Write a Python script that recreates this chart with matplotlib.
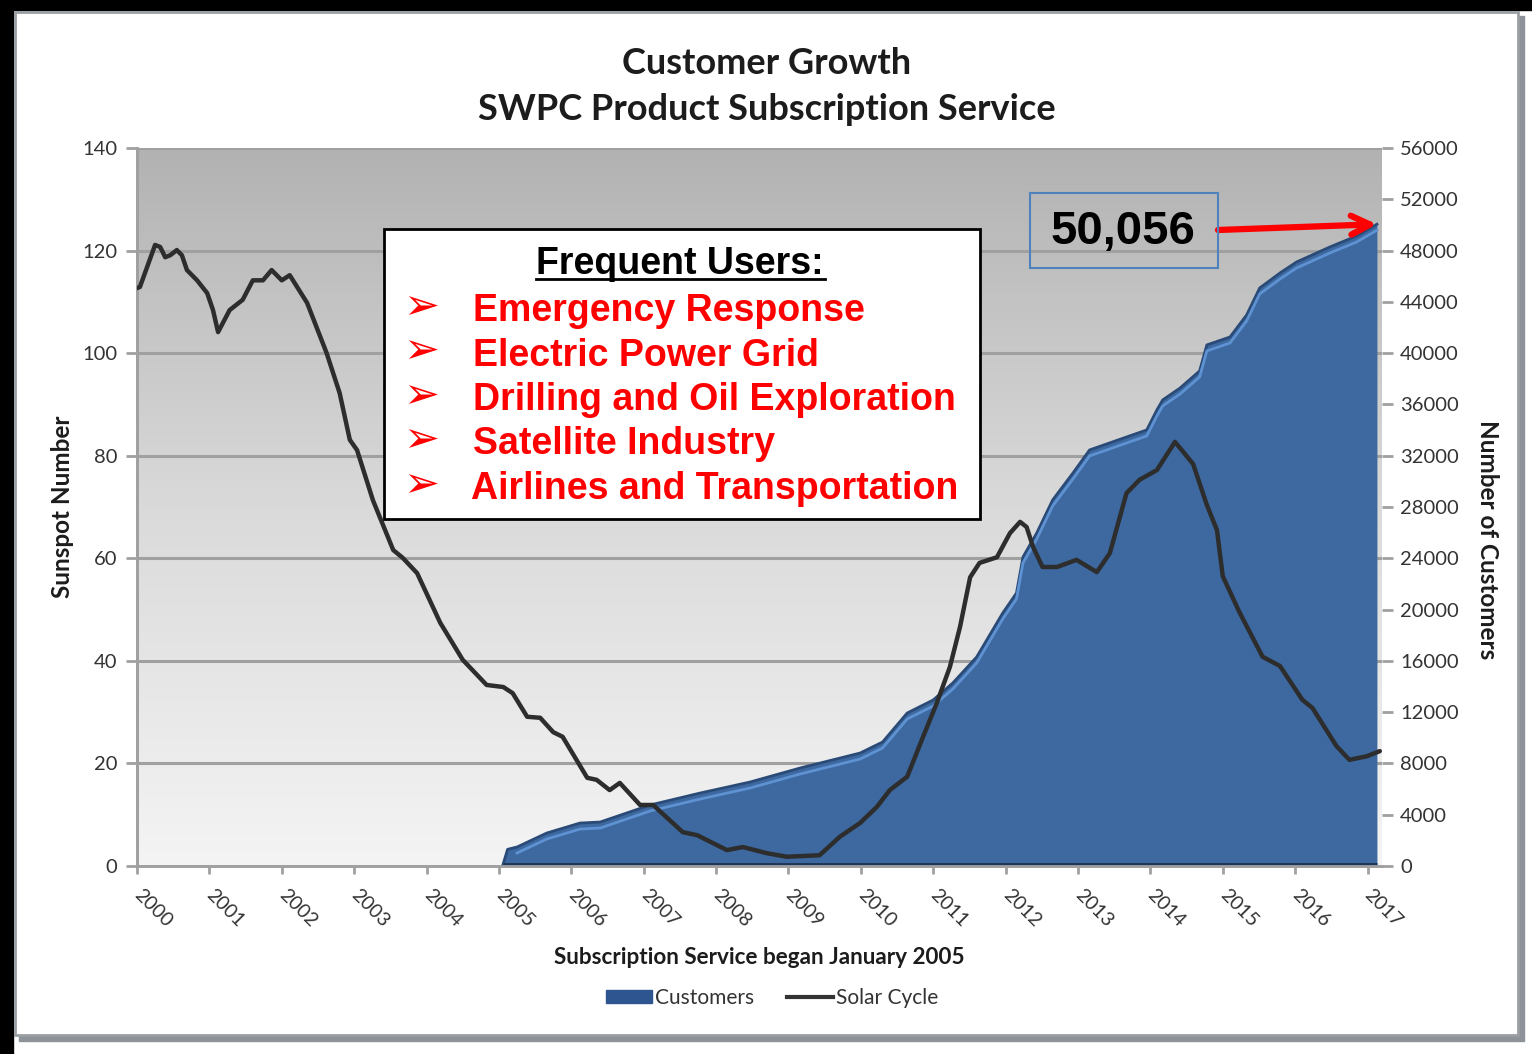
import numpy as np
import matplotlib
matplotlib.use("Agg")
import matplotlib.pyplot as plt
from matplotlib.patches import Rectangle, Patch
from matplotlib.lines import Line2D
from matplotlib.transforms import offset_copy

# sunspot number (solar cycle)
sun_year = [2000.00, 2000.04, 2000.14, 2000.25, 2000.32, 2000.39, 2000.46, 2000.55,
            2000.62, 2000.69, 2000.83, 2000.97, 2001.05, 2001.12, 2001.28, 2001.46,
            2001.60, 2001.74, 2001.86, 2002.00, 2002.11, 2002.35, 2002.62, 2002.80,
            2002.94, 2003.04, 2003.26, 2003.54, 2003.67, 2003.87, 2004.19, 2004.50,
            2004.83, 2005.06, 2005.19, 2005.39, 2005.57, 2005.75, 2005.88, 2006.22,
            2006.35, 2006.53, 2006.67, 2006.95, 2007.13, 2007.54, 2007.74, 2008.15,
            2008.37, 2008.70, 2008.98, 2009.43, 2009.71, 2009.99, 2010.22, 2010.40,
            2010.64, 2010.86, 2011.05, 2011.23, 2011.37, 2011.51, 2011.64, 2011.88,
            2012.06, 2012.20, 2012.29, 2012.38, 2012.51, 2012.71, 2012.98, 2013.26,
            2013.44, 2013.67, 2013.85, 2014.09, 2014.34, 2014.59, 2014.78, 2014.92,
            2015.00, 2015.23, 2015.55, 2015.79, 2016.10, 2016.24, 2016.57, 2016.75,
            2016.99, 2017.17]
sunspots = [112.7, 112.9, 116.8, 121.1, 120.7, 118.7, 119.1, 120.1,
            119.1, 116.2, 114.2, 111.7, 108.4, 104.1, 108.4, 110.4,
            114.2, 114.2, 116.2, 114.2, 115.2, 109.8, 100.0, 92.2,
            83.1, 81.1, 71.3, 61.6, 60.1, 57.1, 47.4, 40.2,
            35.3, 34.9, 33.7, 29.1, 28.9, 26.1, 25.2, 17.2,
            16.8, 14.8, 16.2, 11.9, 11.9, 6.6, 6.0, 3.1,
            3.7, 2.5, 1.8, 2.1, 5.7, 8.4, 11.5, 14.8,
            17.4, 25.2, 31.8, 38.8, 46.6, 56.3, 59.1, 60.2,
            64.9, 67.1, 66.1, 62.2, 58.3, 58.3, 59.7, 57.3,
            61.0, 72.7, 75.3, 77.2, 82.7, 78.4, 70.4, 65.5,
            56.5, 49.5, 40.8, 39.0, 32.4, 30.8, 23.4, 20.7,
            21.4, 22.4]

# number of subscription customers
cust_year = [2005.05, 2005.12, 2005.25, 2005.66, 2006.12, 2006.40, 2007.09, 2007.78,
             2008.47, 2009.16, 2009.99, 2010.30, 2010.64, 2011.00, 2011.27, 2011.60,
             2011.96, 2012.15, 2012.24, 2012.43, 2012.65, 2012.93, 2013.16, 2013.95,
             2014.09, 2014.17, 2014.41, 2014.68, 2014.78, 2015.10, 2015.33, 2015.51,
             2015.79, 2016.02, 2016.48, 2016.85, 2017.13]
customers = [0, 1300, 1480, 2570, 3350, 3430, 4760, 5690,
             6550, 7640, 8810, 9670, 11930, 12950, 14270, 16300,
             19730, 21290, 24100, 25970, 28550, 30650, 32450, 34010,
             35570, 36350, 37280, 38610, 40640, 41260, 42980, 45080,
             46250, 47110, 48280, 49140, 50056]

years = list(range(2000, 2018))
left_ticks = list(range(0, 141, 20))
right_ticks = list(range(0, 56001, 4000))
frequent_users = ["Emergency Response", "Electric Power Grid",
                  "Drilling and Oil Exploration", "Satellite Industry",
                  "Airlines and Transportation"]

W, H = 1532, 1054
FONT = "Lato"
TXT = "#333333"
DARK = "#1c1c1c"


def fx(px):
    return px / W


def fy(py):
    return 1 - py / H


fig = plt.figure(figsize=(W / 100, H / 100), dpi=100)
fig.patch.set_facecolor("white")

# black strips + framed white panel with shadow
fig.patches.append(Rectangle((0, fy(10)), 1, 10 / H, transform=fig.transFigure,
                             color="black", zorder=-5))
fig.patches.append(Rectangle((0, 0), fx(13), 1, transform=fig.transFigure,
                             color="black", zorder=-5))
fig.patches.append(Rectangle((fx(19), fy(1041)), fx(1505), 1025 / H,
                             transform=fig.transFigure, color="#8d9399", zorder=-4))
fig.patches.append(Rectangle((fx(15), fy(1035)), fx(1503), 1023 / H,
                             transform=fig.transFigure, facecolor="white",
                             edgecolor="#9a9fa4", lw=2, zorder=-3))

ax_c = fig.add_axes([fx(137), fy(866), fx(1382) - fx(137), fy(148) - fy(866)])
ax_s = ax_c.twinx()

# gradient plot background
grad = np.linspace(0, 1, 256).reshape(-1, 1)
ax_c.imshow(grad, extent=[0, 1, 0, 1], transform=ax_c.transAxes, aspect="auto",
            cmap=matplotlib.colors.LinearSegmentedColormap.from_list(
                "bg", ["#f4f4f4", "#dadada", "#b2b2b2"]),
            origin="lower", zorder=0)
ax_c.hlines(range(8000, 56001, 8000), 2000, 2017.2, colors="#a0a0a0", lw=2.2, zorder=1)

# customers area
ax_c.fill_between(cust_year, customers, 0, color="#3d69a0", zorder=2, lw=0)
ax_c.plot(cust_year, customers, color="#2a4b78", lw=2, zorder=3)
hl = offset_copy(ax_c.transData, fig=fig, x=0, y=-6, units="dots")
ax_c.plot(cust_year[2:], customers[2:], color="#5f92d2", lw=2, zorder=3, transform=hl)
ax_c.hlines(0, 2005.05, cust_year[-1], colors="#1f3658", lw=5, zorder=3)

ax_c.set_xlim(2000, 2017.2)
ax_c.set_ylim(0, 56000)
ax_c.yaxis.tick_right()
ax_c.yaxis.set_label_position("right")
ax_c.set_yticks(right_ticks)
ax_c.set_xticks(years)
ax_c.set_xticklabels([str(y) for y in years], rotation=-45, ha="left", va="center",
                     rotation_mode="anchor", fontfamily=FONT, fontsize=14, color=TXT)
for lab in ax_c.get_yticklabels():
    lab.set_fontfamily(FONT)
    lab.set_fontsize(14.5)
    lab.set_color(TXT)
ax_c.tick_params(axis="x", length=6, width=2, color="#a0a0a0", pad=13)
ax_c.tick_params(axis="y", length=8, width=2, color="#a0a0a0", pad=5)

# solar cycle line
ax_s.plot(sun_year, sunspots, color="#2d2d2d", lw=3.2, zorder=4,
          solid_capstyle="round", solid_joinstyle="round")
ax_s.set_ylim(0, 140)
ax_s.yaxis.tick_left()
ax_s.yaxis.set_label_position("left")
ax_s.set_yticks(left_ticks)
for lab in ax_s.get_yticklabels():
    lab.set_fontfamily(FONT)
    lab.set_fontsize(14.5)
    lab.set_color(TXT)
ax_s.tick_params(axis="y", length=8, width=2, color="#a0a0a0", pad=6)

for a in (ax_c, ax_s):
    for side in ("top", "right"):
        a.spines[side].set_visible(False)
    a.spines["left"].set_color("#a0a0a0")
    a.spines["left"].set_linewidth(2)
    a.spines["bottom"].set_color("#a0a0a0")
    a.spines["bottom"].set_linewidth(2)

# titles and axis labels
fig.text(fx(767), fy(63), "Customer Growth", ha="center", va="center",
         fontfamily=FONT, fontweight="bold", fontsize=26, color=DARK)
fig.text(fx(767), fy(110), "SWPC Product Subscription Service", ha="center",
         va="center", fontfamily=FONT, fontweight="bold", fontsize=26, color=DARK)
fig.text(fx(62), fy(507), "Sunspot Number", rotation=90, ha="center", va="center",
         fontfamily=FONT, fontweight="bold", fontsize=17.5, color=DARK)
fig.text(fx(1487), fy(540), "Number of Customers", rotation=-90, ha="center",
         va="center", fontfamily=FONT, fontweight="bold", fontsize=17.5, color=DARK)
fig.text(fx(759), fy(958), "Subscription Service began January 2005", ha="center",
         va="center", fontfamily=FONT, fontweight="bold", fontsize=16.2, color=DARK)

# legend
handles = [Patch(facecolor="#2f5590", edgecolor="#2f5590"),
           Line2D([0], [0], color="#333333", lw=3)]
fig.legend(handles, ["Customers", "Solar Cycle"], loc="center",
           bbox_to_anchor=(fx(772), fy(998)), ncol=2, frameon=False,
           prop={"family": FONT, "size": 15}, handlelength=2.2, handleheight=0.6,
           handletextpad=0.15, columnspacing=1.6, labelcolor=TXT)

# "Frequent Users" box
fig.patches.append(Rectangle((fx(384), fy(519)), fx(980) - fx(384), fy(229) - fy(519),
                             transform=fig.transFigure, facecolor="white",
                             edgecolor="black", lw=2, zorder=5))
fig.text(fx(680), fy(264), "Frequent Users:", ha="center", va="center",
         fontfamily="Liberation Sans", fontweight="bold", fontsize=27, color="black",
         zorder=6)
fig.add_artist(Line2D([fx(536), fx(825)], [fy(279), fy(279)], color="black", lw=2,
                      transform=fig.transFigure, zorder=6))
for i, item in enumerate(frequent_users):
    yc = 307 + i * 44.5
    fig.text(fx(403), fy(yc), "\u27a2", ha="left", va="center", fontfamily="DejaVu Sans",
             fontsize=31, color="#ff0000", zorder=6)
    fig.text(fx(473 if i < 4 else 471), fy(yc + 4), item, ha="left", va="center",
             fontfamily="Liberation Sans", fontweight="bold", fontsize=27,
             color="#ff0000", zorder=6)

# latest customer count callout
fig.patches.append(Rectangle((fx(1030), fy(268)), fx(1218) - fx(1030), fy(193) - fy(268),
                             transform=fig.transFigure, facecolor="none",
                             edgecolor="#4f81bd", lw=1.5, zorder=5))
fig.text(fx(1123), fy(232), f"{customers[-1]:,}", ha="center", va="center",
         fontfamily="Liberation Sans", fontweight="bold", fontsize=34, color="black",
         zorder=6)
ax_s.annotate("", xy=(cust_year[-1], customers[-1] / 400), xycoords="data",
              xytext=(fx(1218), fy(230)), textcoords="figure fraction",
              arrowprops=dict(arrowstyle="->", color="#ff0000", lw=4.5,
                              mutation_scale=34, shrinkA=0, shrinkB=0),
              annotation_clip=False, zorder=7)

fig.savefig("out.png", dpi=100, facecolor=fig.get_facecolor())
